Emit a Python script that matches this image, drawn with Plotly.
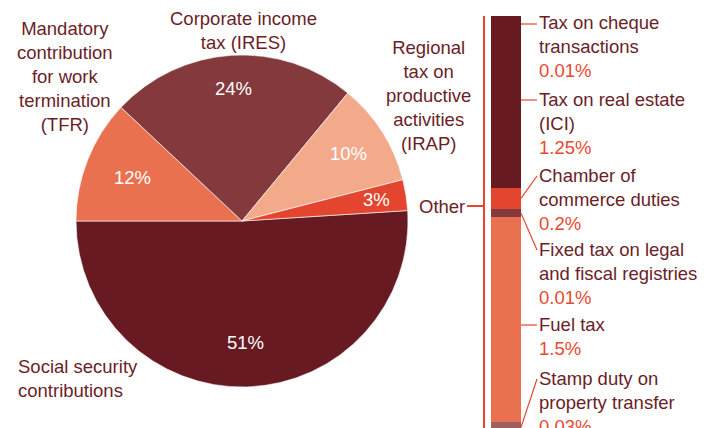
import math
import plotly.graph_objects as go

# ---------------- data ----------------
pie_labels = ["Social security contributions", "Mandatory contribution for work termination (TFR)",
              "Corporate income tax (IRES)", "Regional tax on productive activities (IRAP)", "Other"]
pie_values = [51, 12, 24, 10, 3]
pie_text = ["51%", "12%", "24%", "10%", "3%"]

other_names = ["Tax on cheque<br>transactions", "Tax on real estate<br>(ICI)", "Chamber of<br>commerce duties",
               "Fixed tax on legal<br>and fiscal registries", "Fuel tax", "Stamp duty on<br>property transfer"]
other_pct_labels = ["0.01%", "1.25%", "0.2%", "0.01%", "1.5%", "0.03%"]
# segment heights as drawn in the picture (percentage points)
other_bar_values = [0.01, 1.25, 0.155, 0.06, 1.5, 0.08]

# ---------------- style ----------------
OFF = 8                      # page body margin in the browser
W, H = 713 - OFF, 428 - OFF
FONT = "Liberation Sans, Arial, Helvetica, sans-serif"
FS = 18.5
MAROON_TXT = "#6b1e27"
RED_TXT = "#e9492f"
LINE_RED = "#e8452f"
pie_colors = ["#671a22", "#ea7150", "#843a3c", "#f2aa8b", "#e4452f"]
bar_colors = ["#671a22", "#671a22", "#e4452f", "#843a3c", "#ea7150", "#9e5f5d"]
inside_label_radius = [0.73, 0.71, 0.80, 0.76, 0.82]

def px(x):
    return (x - OFF) / W

def py(y):
    return 1 - (y - OFF) / H

# pie geometry (screen pixels)
cx, cy, r = 242, 221, 166
rotation = 86.4

fig = go.Figure()
fig.add_trace(go.Pie(
    labels=pie_labels, values=pie_values, textinfo="none",
    sort=False, direction="clockwise", rotation=rotation,
    marker=dict(colors=pie_colors, line=dict(color="white", width=0.6)),
    domain=dict(x=[px(cx - r), px(cx + r)], y=[py(cy + r), py(cy - r)]),
    showlegend=False, hoverinfo="label+percent",
))

# stacked bar for "Other"
bar_top, bar_bottom = 16, 428
R = 3.02
for name, v, c in zip(other_names, other_bar_values, bar_colors):
    fig.add_trace(go.Bar(x=["Other"], y=[v], marker=dict(color=c, line=dict(width=0)),
                         xaxis="x2", yaxis="y2", showlegend=False,
                         name=name.replace("<br>", " "), width=1))

fig.update_layout(
    width=W, height=H, margin=dict(l=0, r=0, t=0, b=0),
    paper_bgcolor="white", plot_bgcolor="white",
    barmode="stack", bargap=0,
    xaxis2=dict(domain=[px(491), px(521)], range=[-0.5, 0.5], visible=False, fixedrange=True),
    yaxis2=dict(domain=[0, py(bar_top)], range=[R, 0], visible=False, fixedrange=True),
    font=dict(family=FONT, size=FS, color=MAROON_TXT),
)

def bar_px(v):
    return bar_top + v * (bar_bottom - bar_top) / R

annotations = []
shapes = []

# inside percentage labels, placed at each slice's mid angle
total = sum(pie_values)
start = rotation
for val, txt, rf in zip(pie_values, pie_text, inside_label_radius):
    span = 360 * val / total
    mid = math.radians(start + span / 2)     # clockwise from 12 o'clock
    start += span
    x = cx + rf * r * math.sin(mid)
    y = cy - rf * r * math.cos(mid)
    annotations.append(dict(text=txt, x=px(x), y=py(y), xref="paper", yref="paper",
                            xanchor="center", yanchor="middle", showarrow=False, borderpad=0,
                            font=dict(family=FONT, size=FS, color="white")))

# pie outside labels
pie_label_pos = [
    ("Social security<br>contributions", 17, 378, "left"),
    ("Mandatory<br>contribution<br>for work<br>termination<br>(TFR)", 65, 77, "center"),
    ("Corporate income<br>tax (IRES)", 243, 30, "center"),
    ("Regional<br>tax on<br>productive<br>activities<br>(IRAP)", 428, 95, "center"),
]
for t, x, y, al in pie_label_pos:
    annotations.append(dict(text=t, x=px(x), y=py(y), xref="paper", yref="paper",
                            xanchor=al, yanchor="middle",
                            align=al, showarrow=False, borderpad=0,
                            font=dict(family=FONT, size=FS, color=MAROON_TXT)))
annotations.append(dict(text="Other", x=px(466), y=py(206), xref="paper", yref="paper",
                        xanchor="right", yanchor="middle", showarrow=False, borderpad=0,
                        font=dict(family=FONT, size=FS, color=MAROON_TXT)))

# bracket
shapes.append(dict(type="line", xref="paper", yref="paper", x0=px(484), x1=px(484),
                   y0=py(bar_top), y1=py(432), line=dict(color=LINE_RED, width=2)))
shapes.append(dict(type="line", xref="paper", yref="paper", x0=px(467), x1=px(484),
                   y0=py(206), y1=py(206), line=dict(color=LINE_RED, width=2)))

# right labels
label_first_line_y = [24, 100, 176, 250, 325, 379]
horizontal = [True, True, False, False, True, False]
cum = 0
for i, (nm, pct, v) in enumerate(zip(other_names, other_pct_labels, other_bar_values)):
    mid = bar_px(cum + v / 2)
    cum += v
    ly = label_first_line_y[i]
    annotations.append(dict(
        text=f"{nm}<br><span style='color:{RED_TXT}'>{pct}</span>",
        x=px(538), y=py(ly - 12.5), xref="paper", yref="paper",
        xanchor="left", yanchor="top", align="left", showarrow=False, borderpad=0,
        font=dict(family=FONT, size=FS, color=MAROON_TXT)))
    y0 = ly if horizontal[i] else mid
    shapes.append(dict(type="line", xref="paper", yref="paper",
                       x0=px(521), x1=px(537), y0=py(y0), y1=py(ly),
                       line=dict(color=LINE_RED, width=1.2)))

fig.update_layout(annotations=annotations, shapes=shapes)
fig.write_html("out.html")
